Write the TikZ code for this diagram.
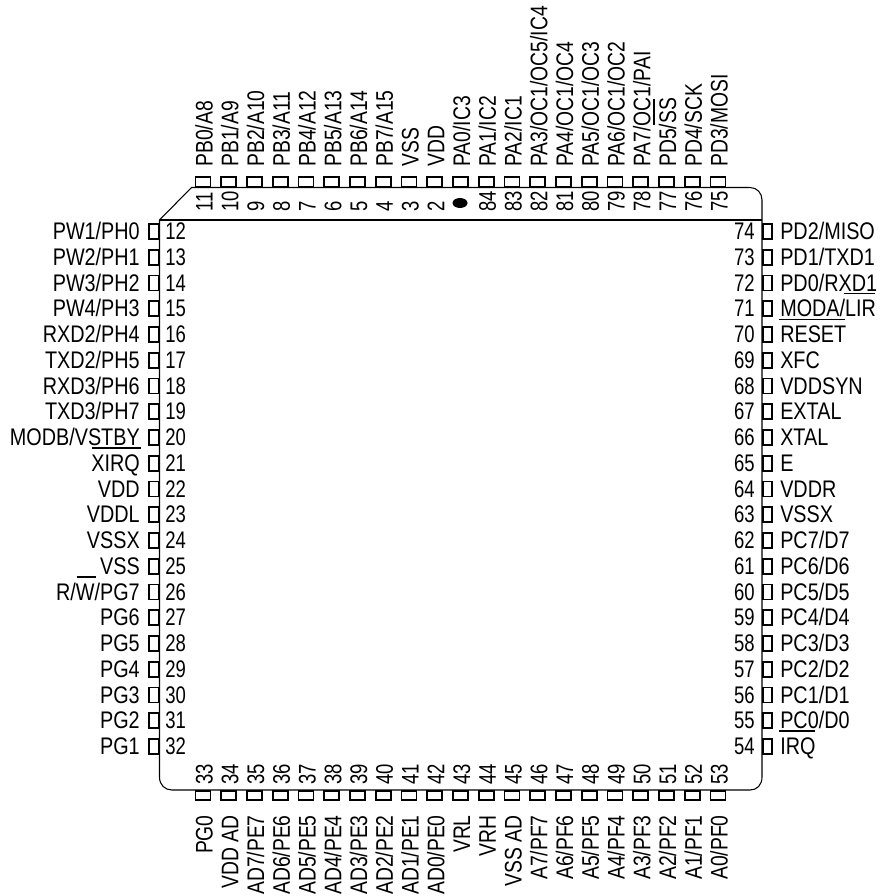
\documentclass[tikz,border=0pt]{standalone}
\usepackage{fontspec}
\setmainfont[FakeStretch=0.825]{Liberation Sans}
\newfontfamily\numfont[FakeStretch=0.77]{Liberation Sans}
\newfontfamily\vertfont[FakeStretch=0.805]{Liberation Sans}
\tikzset{
  px/.style={x=0.75pt,y=-0.75pt},
  pinbox/.style={draw=black,line width=1.2pt,fill=white,inner sep=0pt,minimum width=#1},
  lab/.style={inner sep=0pt,font=\fontsize{18}{20}\selectfont,text=black},
  vlab/.style={inner sep=0pt,font=\fontsize{18}{20}\vertfont,text=black},
  numlab/.style={inner sep=0pt,font=\fontsize{18}{20}\numfont,text=black},
  bar/.style={draw=black,line width=1.2pt},
  body/.style={draw=black,line width=0.8pt}
}
\begin{document}
\begin{tikzpicture}[px]
\useasboundingbox (0,0) rectangle (881,896);
% package outline
\draw[body] (159.5,220) -- (191.5,187.5) -- (750,187.5)
  .. controls (757,187.5) and (762,193) .. (762,200) -- (762,777)
  .. controls (762,785) and (757,790) .. (750,790) -- (172,790)
  .. controls (165,790) and (159.5,785) .. (159.5,777) -- cycle;
\draw[line width=1.3pt] (159.5,220) -- (762,220);
% left side
\foreach \l [count=\i from 12, evaluate=\i as \y using {231.5+25.75*(\i-12)}] in
 {PW1/PH0,PW2/PH1,PW3/PH2,PW4/PH3,RXD2/PH4,TXD2/PH5,RXD3/PH6,TXD3/PH7,MODB/VSTBY,XIRQ,VDD,VDDL,VSSX,VSS,R/W/PG7,PG6,PG5,PG4,PG3,PG2,PG1}{
  \node[pinbox=7.1pt,minimum height=11.25pt,anchor=east] (pin\i) at (159.5,\y) {};
  \node[numlab,anchor=base west] (num\i) at (165,\y+8) {\i};
  \node[lab,anchor=base east] (name\i) at (140,\y+8) {\l};
}
% right side
\foreach \l [count=\i from 0, evaluate=\i as \y using {231.5+25.75*\i}, evaluate=\i as \n using {int(74-\i)}] in
 {PD2/MISO,PD1/TXD1,PD0/RXD1,MODA/LIR,RESET,XFC,VDDSYN,EXTAL,XTAL,E,VDDR,VSSX,PC7/D7,PC6/D6,PC5/D5,PC4/D4,PC3/D3,PC2/D2,PC1/D1,PC0/D0,IRQ}{
  \node[pinbox=7.1pt,minimum height=11.25pt,anchor=west] (pin\n) at (762,\y) {};
  \node[numlab,anchor=base east] (num\n) at (755,\y+8) {\n};
  \node[lab,anchor=base west] (name\n) at (780,\y+8) {\l};
}
% top side
\foreach \n/\l [count=\i from 0, evaluate=\i as \x using {203+25.75*\i}] in
 {11/{PB0/A8},10/{PB1/A9},9/{PB2/A10},8/{PB3/A11},7/{PB4/A12},6/{PB5/A13},5/{PB6/A14},4/{PB7/A15},3/VSS,2/VDD,1/{PA0/IC3},84/{PA1/IC2},83/{PA2/IC1},82/{PA3/OC1/OC5/IC4},81/{PA4/OC1/OC4},80/{PA5/OC1/OC3},79/{PA6/OC1/OC2},78/{PA7/OC1/PAI},77/{PD5/SS},76/{PD4/SCK},75/{PD3/MOSI}}{
  \node[pinbox=11.25pt,minimum height=7.1pt,anchor=south] (pin\n) at (\x,187.5) {};
  \node[vlab,rotate=90,anchor=base west] (name\n) at (\x+9.5,167) {\l};
  \ifnum\n=1\relax\else
    \node[numlab,rotate=90,anchor=base west] (num\n) at (\x+9.5,212) {\n};
  \fi
}
\fill[black] (460,203) ellipse [x radius=7.5, y radius=5];
% bottom side
\foreach \l [count=\n from 33, evaluate=\n as \x using {203+25.75*(\n-33)}] in
 {PG0,VDD AD,AD7/PE7,AD6/PE6,AD5/PE5,AD4/PE4,AD3/PE3,AD2/PE2,AD1/PE1,AD0/PE0,VRL,VRH,VSS AD,A7/PF7,A6/PF6,A5/PF5,A4/PF4,A3/PF3,A2/PF2,A1/PF1,A0/PF0}{
  \node[pinbox=11.25pt,minimum height=7.1pt,anchor=north] (pin\n) at (\x,790) {};
  \node[numlab,rotate=90,anchor=base west] (num\n) at (\x+9.5,785) {\n};
  \node[vlab,rotate=90,anchor=base east] (name\n) at (\x+9.5,815) {\l};
}
% overbars
\draw[bar] (654,99) -- (654,125);
\draw[bar] (844,293.5) -- (875,293.5);
\draw[bar] (779,319.5) -- (845,319.5);
\draw[bar] (92,448) -- (141,448);
\draw[bar] (77,577) -- (96,577);
\draw[bar] (779,731) -- (815,731);
\end{tikzpicture}
\end{document}
